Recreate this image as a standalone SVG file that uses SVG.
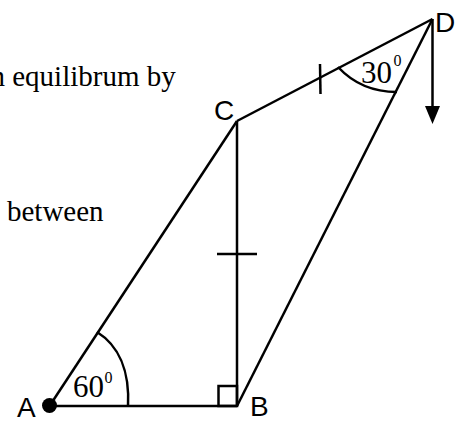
<svg xmlns="http://www.w3.org/2000/svg" width="465" height="421" viewBox="0 0 465 421">
<style>
.ln{stroke:#000;stroke-width:2.5;fill:none;stroke-linecap:butt}
.lbl{font-family:"Liberation Sans",Arial,sans-serif;font-size:28px;fill:#000}
.txt{font-family:"Liberation Serif","Times New Roman",serif;font-size:29px;fill:#000}
.ang{font-family:"Liberation Serif","Times New Roman",serif;font-size:31px;fill:#000}
.sup{font-family:"Liberation Serif","Times New Roman",serif;font-size:16px;fill:#000}
</style>
<rect width="465" height="421" fill="#fff"/>
<text class="txt" x="-9.5" y="86">n equilibrum by</text>
<text class="txt" x="7" y="221">between</text>
<g id="connectors">
<line class="ln" x1="49.5" y1="406" x2="237" y2="406"/>
<line class="ln" x1="49.5" y1="406" x2="237" y2="121"/>
<line class="ln" x1="237" y1="121" x2="237" y2="406"/>
<line class="ln" x1="237" y1="121" x2="432.5" y2="19"/>
<line class="ln" x1="432.5" y1="19" x2="237" y2="406"/>
<line class="ln" x1="432.5" y1="19" x2="432.5" y2="107"/>
<path d="M425,106 L440,106 L432.5,124 Z" fill="#000"/>
<line class="ln" x1="217" y1="254" x2="257" y2="254"/>
<line class="ln" x1="320" y1="64" x2="320.5" y2="94"/>
<rect class="ln" x="218.5" y="386" width="18.5" height="20"/>
<path class="ln" d="M97,332 C118,345 130,370 128,407"/>
<path class="ln" d="M338,67 C352,82 372,92 397,92"/>
</g>
<g id="A"><circle cx="49.5" cy="405.5" r="7.5" fill="#000"/><text class="lbl" x="17" y="416.5">A</text></g>
<g id="B"><text class="lbl" x="250" y="416">B</text></g>
<g id="C"><text class="lbl" x="214" y="120">C</text></g>
<g id="D"><text class="lbl" x="435" y="32">D</text></g>
<g id="angle60"><text class="ang" x="73" y="397">60</text><text class="sup" x="104.5" y="383">0</text></g>
<g id="angle30"><text class="ang" x="361" y="83">30</text><text class="sup" x="393.5" y="66">0</text></g>
</svg>
